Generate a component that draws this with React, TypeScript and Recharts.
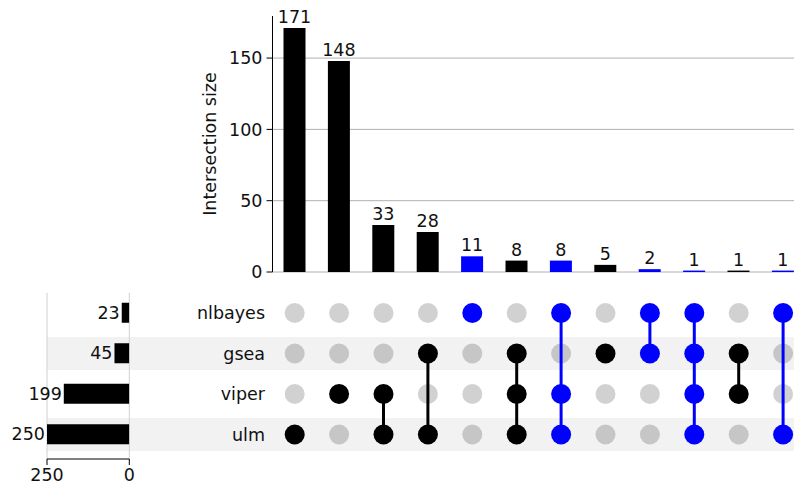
import { Bar, BarChart, CartesianGrid, Cell, Label, LabelList, ReferenceArea, Scatter, ScatterChart, XAxis, YAxis } from 'recharts'

const sets = ['nlbayes', 'gsea', 'viper', 'ulm']
const setTotals = [23, 45, 199, 250]
const intersectionSizes = [171, 148, 33, 28, 11, 8, 8, 5, 2, 1, 1, 1]
const memberships = [
  ['ulm'],
  ['viper'],
  ['viper', 'ulm'],
  ['gsea', 'ulm'],
  ['nlbayes'],
  ['gsea', 'viper', 'ulm'],
  ['nlbayes', 'viper', 'ulm'],
  ['gsea'],
  ['nlbayes', 'gsea'],
  ['nlbayes', 'gsea', 'viper', 'ulm'],
  ['gsea', 'viper'],
  ['nlbayes', 'ulm'],
]
const highlightSet = 'nlbayes'
const shadedSets = ['gsea', 'ulm']
const sizeTicks = [0, 50, 100, 150]
const totalTicks = [250, 0]

// layout
const CHART_W = 810
const PLOT_LEFT = 272.5
const COL_STEP = 44.4
const PLOT_RIGHT = PLOT_LEFT + COL_STEP * intersectionSizes.length
const RIGHT_PAD = CHART_W - PLOT_RIGHT
const BAND_LEFT = 47
const TOT_RIGHT = 129.3
const MATRIX_TOP = 292.75
const ROW_STEP = 40.5
const MATRIX_BOTTOM = MATRIX_TOP + ROW_STEP * sets.length
const NAME_RIGHT = 265
const FONT = 17.5
const BLUE = '#0000ff'
const TEXT = '#111'
const SIZE_MAX = 179.5

const colorOf = (m: string[]) => (m.includes(highlightSet) ? BLUE : '#000')

const intersections = intersectionSizes.map((size, i) => ({
  key: `c${i}`,
  size,
  color: colorOf(memberships[i]),
}))

const totals = sets.map((name, i) => ({ name, total: setTotals[i] }))

const offDots = memberships.flatMap((m, i) =>
  sets.map((s, r) => (m.includes(s) ? null : { x: i, y: r })).filter((d) => d !== null)
)
const onDots = memberships.map((m, i) => sets.map((s, r) => (m.includes(s) ? { x: i, y: r } : null)).filter((d) => d !== null))

const xMin = -0.5 - (PLOT_LEFT - BAND_LEFT) / COL_STEP
const xMax = intersectionSizes.length - 0.5

// grid only at the size ticks (no line at the top edge)
const sizeGrid = ({ offset }: any) => sizeTicks.map((t) => offset.top + offset.height * (1 - t / SIZE_MAX))

function TopChart() {
  return (
    <BarChart
      width={CHART_W}
      height={290}
      data={intersections}
      margin={{ top: 16, right: RIGHT_PAD, bottom: 18, left: 0 }}
      style={{ position: 'absolute', left: 0, top: 0 }}
    >
      <CartesianGrid vertical={false} stroke="#b0b0b0" strokeWidth={1} horizontalCoordinatesGenerator={sizeGrid} />
      <XAxis dataKey="key" hide />
      <YAxis
        width={PLOT_LEFT}
        domain={[0, SIZE_MAX]}
        ticks={sizeTicks}
        allowDataOverflow
        tickSize={6}
        tickMargin={4}
        axisLine={{ stroke: '#000' }}
        tickLine={{ stroke: '#000' }}
        tick={{ fontSize: FONT, fill: TEXT }}
      >
        <Label
          content={({ viewBox }: any) => {
            const cy = viewBox.y + viewBox.height / 2
            return (
              <text x={216} y={cy} transform={`rotate(-90, 216, ${cy})`} textAnchor="middle" fontSize={FONT} fill={TEXT}>
                Intersection size
              </text>
            )
          }}
        />
      </YAxis>
      <Bar dataKey="size" barSize={22} isAnimationActive={false}>
        {intersections.map((d) => (
          <Cell key={d.key} fill={d.color} />
        ))}
        <LabelList dataKey="size" position="top" offset={5} fill={TEXT} fontSize={FONT} />
      </Bar>
    </BarChart>
  )
}

function MatrixChart() {
  return (
    <ScatterChart
      width={CHART_W}
      height={487}
      margin={{ top: MATRIX_TOP, right: RIGHT_PAD, bottom: 487 - MATRIX_BOTTOM, left: BAND_LEFT }}
      style={{ position: 'absolute', left: 0, top: 0 }}
    >
      <XAxis type="number" dataKey="x" domain={[xMin, xMax]} allowDataOverflow hide />
      <YAxis type="number" dataKey="y" domain={[-0.5, sets.length - 0.5]} reversed allowDataOverflow hide />
      {sets.map((s, r) =>
        shadedSets.includes(s) ? (
          <ReferenceArea key={s} x1={xMin} x2={xMax} y1={r - 0.41} y2={r + 0.41} fill="#000" fillOpacity={0.05} stroke="none" />
        ) : null
      )}
      <Scatter
        data={offDots}
        isAnimationActive={false}
        shape={(p: any) => <circle cx={p.cx} cy={p.cy} r={10} fill="#000" fillOpacity={0.18} />}
      />
      {onDots.map((pts, i) => {
        const c = colorOf(memberships[i])
        return (
          <Scatter
            key={i}
            data={pts}
            isAnimationActive={false}
            line={{ stroke: c, strokeWidth: 3 }}
            shape={(p: any) => <circle cx={p.cx} cy={p.cy} r={10} fill={c} />}
          />
        )
      })}
    </ScatterChart>
  )
}

function TotalsChart() {
  return (
    <BarChart
      layout="vertical"
      width={PLOT_LEFT}
      height={487}
      data={totals}
      margin={{ top: MATRIX_TOP, right: 0, bottom: 0, left: BAND_LEFT }}
      style={{ position: 'absolute', left: 0, top: 0 }}
    >
      <CartesianGrid horizontal={false} stroke="#d0d0d0" />
      <XAxis
        type="number"
        domain={[0, 250]}
        ticks={totalTicks}
        reversed
        allowDataOverflow
        height={28}
        tickSize={6}
        tickMargin={4}
        axisLine={{ stroke: '#000' }}
        tickLine={{ stroke: '#000' }}
        tick={{ fontSize: FONT, fill: TEXT }}
      />
      <YAxis
        type="category"
        dataKey="name"
        orientation="right"
        width={PLOT_LEFT - TOT_RIGHT}
        padding={{ top: 0, bottom: 459 - MATRIX_BOTTOM }}
        axisLine={false}
        tickLine={false}
        tickSize={0}
        tick={({ y, payload }: any) => (
          <text x={NAME_RIGHT} y={y} dy="0.355em" textAnchor="end" fontSize={FONT} fill={TEXT}>
            {payload.value}
          </text>
        )}
      />
      <Bar dataKey="total" barSize={20} fill="#000" isAnimationActive={false}>
        <LabelList
          dataKey="total"
          content={({ x, y, width, height, value }: any) => (
            <text
              x={Math.min(x, x + width) - 2}
              y={y + height / 2}
              dy="0.355em"
              textAnchor="end"
              fontSize={FONT}
              fill={TEXT}
            >
              {value}
            </text>
          )}
        />
      </Bar>
    </BarChart>
  )
}

export default function App() {
  return (
    <div
      style={{
        position: 'absolute',
        left: 0,
        top: 0,
        width: 794,
        height: 487,
        overflow: 'hidden',
        background: '#fff',
        fontFamily: '"DejaVu Sans", sans-serif',
      }}
    >
      <MatrixChart />
      <TotalsChart />
      <TopChart />
    </div>
  )
}
